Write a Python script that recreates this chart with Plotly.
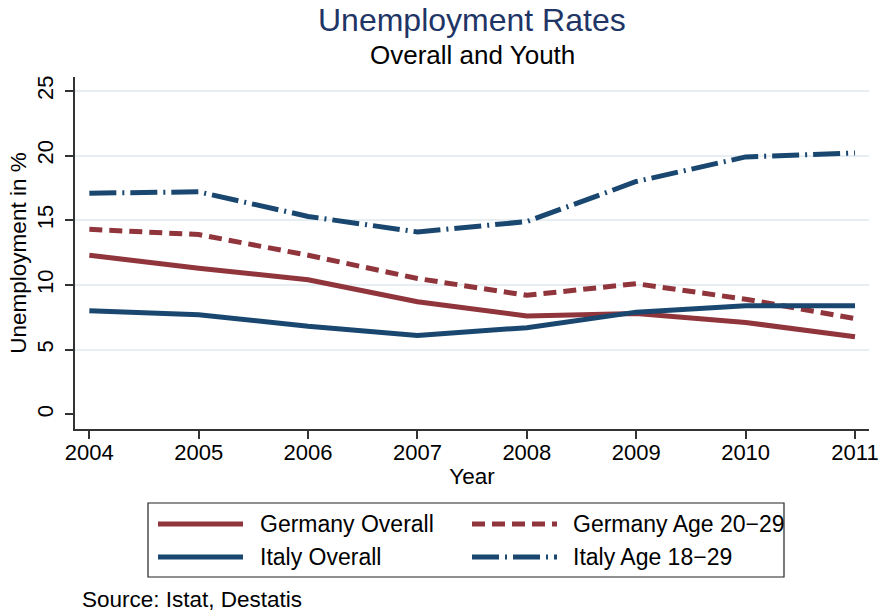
import plotly.graph_objects as go

# ---- data ----
years = [2004, 2005, 2006, 2007, 2008, 2009, 2010, 2011]
germany_overall = [12.3, 11.3, 10.4, 8.7, 7.6, 7.8, 7.1, 6.0]
germany_youth = [14.3, 13.9, 12.3, 10.5, 9.2, 10.1, 8.9, 7.4]
italy_overall = [8.0, 7.7, 6.8, 6.1, 6.7, 7.9, 8.4, 8.4]
italy_youth = [17.1, 17.2, 15.3, 14.1, 14.9, 18.0, 19.9, 20.2]
y_ticks = [0, 5, 10, 15, 20, 25]
series_names = ["Germany Overall", "Germany Age 20\u221229", "Italy Overall", "Italy Age 18\u221229"]

RED = "#90353b"
BLUE = "#1a476f"
FONT = "Liberation Sans, Arial, Helvetica, sans-serif"
DASH_G = "13px,7px"
DASH_I = "27px,6px,2px,6px"

W, H = 879, 611
# plot area edges in window pixels
PL, PR, PT, PB = 75, 869, 77, 429


def px_x(px):
    return (px - PL) / (PR - PL)


def px_y(py):
    return (PB - py) / (PB - PT)


fig = go.Figure()
fig.add_trace(go.Scatter(x=years, y=germany_overall, mode="lines", name=series_names[0],
                         line=dict(color=RED, width=5)))
fig.add_trace(go.Scatter(x=years, y=germany_youth, mode="lines", name=series_names[1],
                         line=dict(color=RED, width=5, dash=DASH_G)))
fig.add_trace(go.Scatter(x=years, y=italy_overall, mode="lines", name=series_names[2],
                         line=dict(color=BLUE, width=5)))
fig.add_trace(go.Scatter(x=years, y=italy_youth, mode="lines", name=series_names[3],
                         line=dict(color=BLUE, width=5, dash=DASH_I)))

# ---- custom legend (Stata-like) ----
shapes = []
annotations = []
shapes.append(dict(type="rect", xref="paper", yref="paper",
                   x0=px_x(148), x1=px_x(784), y0=px_y(577), y1=px_y(503),
                   line=dict(color="#222222", width=1.2), fillcolor="rgba(0,0,0,0)"))
legend_items = [
    (series_names[0], RED, "solid", 158, 243, 258, 524),
    (series_names[1], RED, DASH_G, 472, 557, 571, 524),
    (series_names[2], BLUE, "solid", 158, 243, 258, 557),
    (series_names[3], BLUE, DASH_I, 472, 557, 571, 557),
]
for name, col, dash, lx0, lx1, tx, ty in legend_items:
    shapes.append(dict(type="line", xref="paper", yref="paper",
                       x0=px_x(lx0), x1=px_x(lx1), y0=px_y(ty), y1=px_y(ty),
                       line=dict(color=col, width=5, dash=dash)))
    annotations.append(dict(text=name, xref="paper", yref="paper", x=px_x(tx), y=px_y(ty),
                            xanchor="left", yanchor="middle", showarrow=False,
                            font=dict(family=FONT, size=23, color="black")))

# titles and note
annotations.append(dict(text="Unemployment Rates", xref="paper", yref="paper", x=0.5, y=px_y(20),
                        xanchor="center", yanchor="middle", showarrow=False,
                        font=dict(family=FONT, size=32, color="#1f3566")))
annotations.append(dict(text="Overall and Youth", xref="paper", yref="paper", x=0.5, y=px_y(55),
                        xanchor="center", yanchor="middle", showarrow=False,
                        font=dict(family=FONT, size=26, color="black")))
annotations.append(dict(text="Source: Istat, Destatis", xref="paper", yref="paper", x=px_x(80), y=px_y(599),
                        xanchor="left", yanchor="middle", showarrow=False,
                        font=dict(family=FONT, size=22.5, color="black")))

AXC = "#333333"
fig.update_layout(
    width=W, height=H,
    margin=dict(l=PL, r=W - PR, t=PT, b=H - PB, autoexpand=False),
    paper_bgcolor="white", plot_bgcolor="white",
    showlegend=False,
    font=dict(family=FONT, size=22, color="black"),
    shapes=shapes, annotations=annotations,
    xaxis=dict(range=[2003.869, 2011.128], tickvals=years, ticktext=[str(y) for y in years],
               automargin=False,
               showgrid=False, zeroline=False, showline=True, linecolor=AXC, linewidth=1.5,
               ticks="outside", ticklen=8, tickwidth=1.5, tickcolor=AXC, ticklabelstandoff=-5,
               tickfont=dict(family=FONT, size=22, color="black"),
               title=dict(text="Year", font=dict(family=FONT, size=22.5, color="black"), standoff=4)),
    yaxis=dict(range=[-1.136, 26.08], tickvals=y_ticks,
               automargin=False,
               showgrid=True, gridcolor="#e6eef1", gridwidth=1.6,
               zeroline=True, zerolinecolor="white", zerolinewidth=3,
               showline=True, linecolor=AXC, linewidth=1.5,
               ticks="outside", ticklen=8, tickwidth=1.5, tickcolor=AXC,
               tickangle=-90, ticklabelstandoff=3,
               tickfont=dict(family=FONT, size=22, color="black"),
               title=dict(text="Unemployment in %", font=dict(family=FONT, size=22.5, color="black"), standoff=1)),
)

fig.write_html("out.html", config={"displayModeBar": False},
               post_script="document.body.style.margin='0px';document.body.style.overflow='hidden';")
